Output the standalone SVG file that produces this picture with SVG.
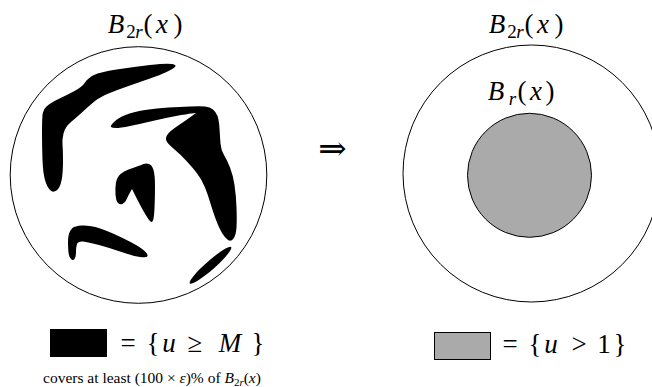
<svg xmlns="http://www.w3.org/2000/svg" width="652" height="387" viewBox="0 0 652 387">
<style>
.ring{fill:none;stroke:#000;stroke-width:1}
.blob{fill:#000;stroke:none}
.m{font-family:"Liberation Serif","Times New Roman",serif;font-size:27px;fill:#000;text-anchor:middle}
.i{font-style:italic}
.s{font-size:19px}
.cap{font-family:"Liberation Serif","Times New Roman",serif;font-size:15.5px;fill:#000}
</style>
<rect width="652" height="387" fill="#fff"/>
<g id="left-ball">
<circle class="ring" cx="138.5" cy="175" r="128.3"/>
<path class="blob" d="M172,64 Q167,63 150,65 Q133,67 116.5,69.5 Q100,72 94,75 Q88,78 85,82.5 Q82,87 74.5,91 Q67,95 58.5,99 Q50,103 46.5,106.5 Q43,110 42.5,115 Q42,120 42,133.5 Q42,147 42.5,160 Q43,173 45,180 Q47,187 50,190 Q53,193 56.5,190.5 Q60,188 61.5,180.5 Q63,173 63,161.5 Q63,150 62.5,145 Q62,140 63.5,133.5 Q65,127 71,122 Q77,117 83.5,111 Q90,105 95,101 Q100,97 108.5,93.5 Q117,90 128.5,86 Q140,82 150,78.5 Q160,75 166.5,72 Q173,69 175,67 Q177,65 172,64 Z"/>
<path class="blob" d="M114,122 Q118,118 125.5,115 Q133,112 145,110 Q157,108 168.5,107.5 Q180,107 190,106.5 Q200,106 205,106.5 Q210,107 213,109.5 Q216,112 217.5,116 Q219,120 219.5,128.5 Q220,137 220.5,143.5 Q221,150 224,155 Q227,160 230,167.5 Q233,175 234.5,185 Q236,195 236.5,207.5 Q237,220 236.5,227.5 Q236,235 233.5,238.5 Q231,242 228,240 Q225,238 222,233 Q219,228 216,220 Q213,212 210.5,203.5 Q208,195 205,187.5 Q202,180 197.5,174 Q193,168 186.5,161 Q180,154 174,149 Q168,144 166.5,141 Q165,138 167.5,134.5 Q170,131 177.5,126 Q185,121 190.5,117 L196,113 L191.5,113.5 Q187,114 176,116 Q165,118 152.5,121 Q140,124 130,126 Q120,128 116,128 Q112,128 111,127 Q110,126 114,122 Z"/>
<path class="blob" d="M149,164 Q152,165 153.5,170 Q155,175 155,186.5 Q155,198 154.5,208 Q154,218 153,220.5 Q152,223 150,221 Q148,219 144,212 Q140,205 136,197 L132,189 L130,192.5 Q128,196 126.5,199.5 Q125,203 122.5,204 Q120,205 118,203 Q116,201 115.5,194.5 Q115,188 116,182.5 Q117,177 120.5,174 Q124,171 128.5,169.5 Q133,168 137,166.5 Q141,165 143.5,164 Q146,163 149,164 Z"/>
<path class="blob" d="M81.5,225.5 Q88,225 95.5,227 Q103,229 113,233.5 Q123,238 131.5,242.5 Q140,247 144,250.5 Q148,254 147.5,256 Q147,258 140,257 Q133,256 121.5,252 Q110,248 99,245 Q88,242 83,241.5 Q78,241 77,244 Q76,247 76,252 Q76,257 74.5,259 Q73,261 71,259 Q69,257 68.5,252.5 Q68,248 68,242.5 Q68,237 69,233.5 Q70,230 72.5,228 Q75,226 81.5,225.5 Z"/>
<ellipse class="blob" cx="210.5" cy="265.3" rx="27.5" ry="4.5" transform="rotate(-41.3 210.5 265.3)"/>
<text class="m"><tspan class="i" x="116" y="33">B</tspan><tspan class="s" x="131" y="38">2</tspan><tspan class="s i" x="139" y="38">r</tspan><tspan x="148" y="33">(</tspan><tspan class="i" x="162" y="33">x</tspan><tspan x="178" y="33">)</tspan></text>
</g>
<g id="implies">
<text x="332.5" y="160" text-anchor="middle" style="font-family:'DejaVu Serif','DejaVu Sans',serif;font-size:34px" fill="#000">⇒</text>
</g>
<g id="right-ball">
<circle class="ring" cx="531.5" cy="173.5" r="128.5"/>
<circle cx="529.5" cy="175.3" r="62" fill="#aaa" stroke="#000" stroke-width="1"/>
<text class="m"><tspan class="i" x="497" y="33">B</tspan><tspan class="s" x="512" y="38">2</tspan><tspan class="s i" x="520" y="38">r</tspan><tspan x="529" y="33">(</tspan><tspan class="i" x="543" y="33">x</tspan><tspan x="559" y="33">)</tspan></text>
<text class="m"><tspan class="i" x="496" y="100">B</tspan><tspan class="s i" x="512.5" y="105">r</tspan><tspan x="522" y="100">(</tspan><tspan class="i" x="536" y="100">x</tspan><tspan x="550" y="100">)</tspan></text>
</g>
<g id="legend-black">
<rect x="50" y="329" width="57" height="28" fill="#000"/>
<text class="m"><tspan x="128" y="352">=</tspan><tspan x="153" y="352">{</tspan><tspan class="i" x="169" y="352">u</tspan><tspan x="195" y="352">≥</tspan><tspan class="i" x="230" y="352">M</tspan><tspan x="258" y="352">}</tspan></text>
<text class="cap" x="43" y="383">covers at least (100 × <tspan class="i">ε</tspan>)% of <tspan class="i">B</tspan><tspan dy="3" font-size="11px">2<tspan class="i">r</tspan></tspan><tspan dy="-3">(<tspan class="i">x</tspan>)</tspan></text>
</g>
<g id="legend-gray">
<rect x="434.5" y="332.5" width="56" height="27" fill="#aaa" stroke="#000" stroke-width="1"/>
<text class="m"><tspan x="510" y="353">=</tspan><tspan x="535" y="353">{</tspan><tspan class="i" x="551" y="353">u</tspan><tspan x="579" y="353">&gt;</tspan><tspan x="604" y="353">1</tspan><tspan x="620" y="353">}</tspan></text>
</g>
</svg>
